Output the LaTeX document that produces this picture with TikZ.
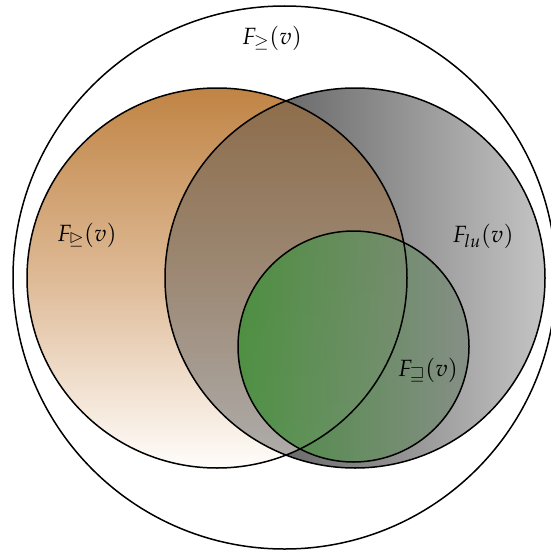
\documentclass[tikz,border=0pt]{standalone}
\usepackage{amssymb}
\usepackage{mathpazo}
\begin{document}
\begin{tikzpicture}[x=1pt,y=-1pt]
\definecolor{orangetop}{RGB}{192,132,68}
\definecolor{orangemid}{RGB}{222,186,150}
\definecolor{orangebot}{RGB}{255,253,251}
\definecolor{grayL}{RGB}{66,66,66}
\definecolor{grayR}{RGB}{196,196,196}
\definecolor{grayO}{RGB}{78,78,78}
\definecolor{greenL}{RGB}{92,190,78}
\definecolor{greenR}{RGB}{172,186,172}
\tikzset{
  ring/.style={draw=black, line width=1.5pt},
  lab/.style={inner sep=0pt, font=\fontsize{23.5}{28}\selectfont}
}
\useasboundingbox (0,0) rectangle (550,551);
\coordinate (cB) at (284.5,277.5);
\coordinate (cO) at (217,278);
\coordinate (cG) at (355,278);
\coordinate (cS) at (353.5,346.5);
% fills
\fill[left color=grayL, right color=grayR] (cG) circle[radius=190];
\fill[top color=orangetop, bottom color=orangebot, middle color=orangemid] (cO) circle[radius=190];
\begin{scope}
  \clip (cG) circle[radius=190];
  \fill[grayO, opacity=0.45] (cO) circle[radius=190];
\end{scope}
\fill[left color=greenL, right color=greenR, opacity=0.68] (cS) circle[radius=115.5];
% outlines
\draw[ring] (cB) circle[radius=271.5];
\draw[ring] (cO) circle[radius=190];
\draw[ring] (cG) circle[radius=190];
\draw[ring] (cS) circle[radius=115.5];
% labels
\node[lab] (lbig) at (272,38) {$F_{\geq}(v)$};
\node[lab] (lorange) at (87,235) {$F_{\trianglerighteq}(v)$};
\node[lab] (lgray) at (483,236) {$F_{lu}(v)$};
\node[lab] (lgreen) at (428,370) {$F_{\sqsupseteq}(v)$};
\end{tikzpicture}
\end{document}
